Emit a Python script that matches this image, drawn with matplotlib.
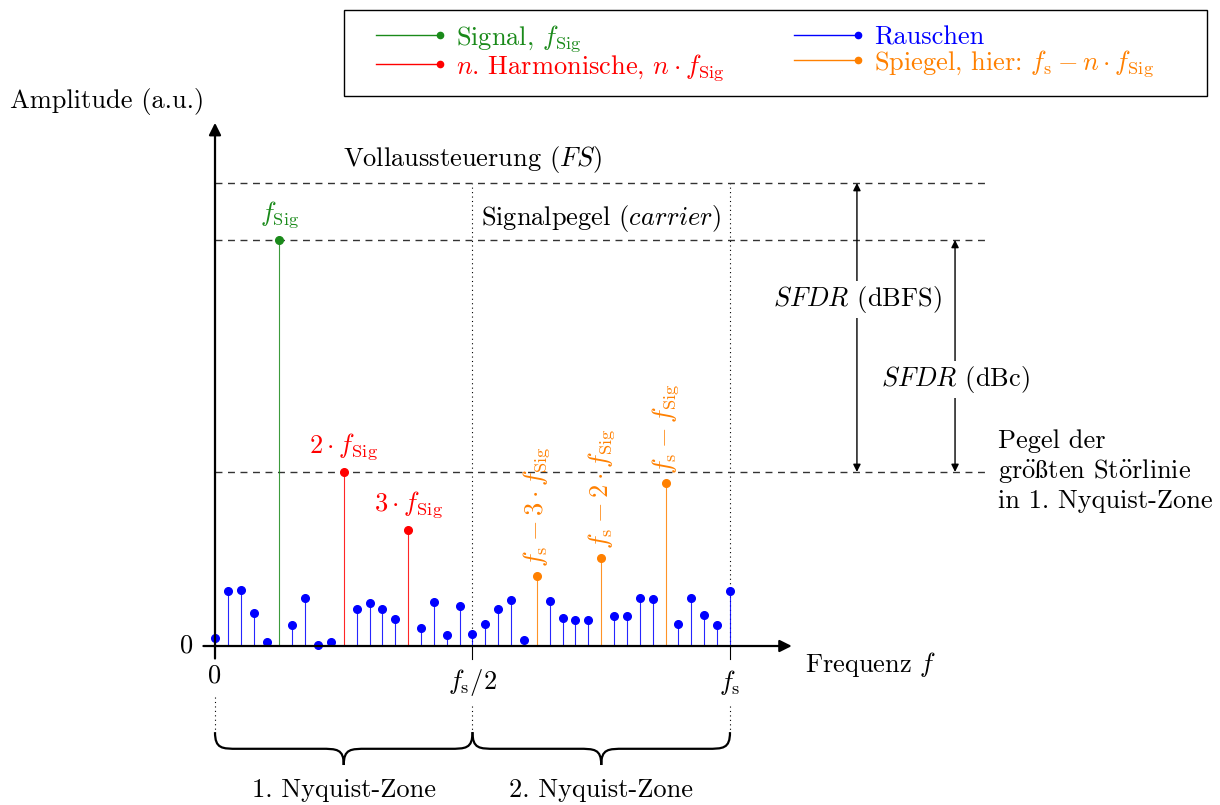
import matplotlib
matplotlib.use("Agg")
import matplotlib.pyplot as plt
from matplotlib.lines import Line2D
from matplotlib.legend_handler import HandlerBase
from matplotlib.path import Path
from matplotlib.patches import PathPatch, Rectangle

plt.rcParams['font.family'] = ['cmr10', 'Liberation Serif']
plt.rcParams['mathtext.fontset'] = 'cm'
plt.rcParams['axes.unicode_minus'] = False
FS = 19

# Frequenz in Bins (fs = 40 Bins), Amplitude in a.u. (Vollaussteuerung = 10)
fs_bin = 40
full_scale = 10.0
noise_bins = [0, 1, 2, 3, 4, 6, 7, 8, 9, 11, 12, 13, 14, 16, 17, 18, 19, 20,
              21, 22, 23, 24, 26, 27, 28, 29, 31, 32, 33, 34, 36, 37, 38, 39, 40]
noise_amp = [0.17, 1.19, 1.20, 0.72, 0.09, 0.45, 1.04, 0.02, 0.08, 0.81, 0.93,
             0.81, 0.58, 0.38, 0.94, 0.24, 0.86, 0.25, 0.47, 0.79, 0.99, 0.12,
             0.97, 0.61, 0.56, 0.56, 0.65, 0.65, 1.03, 1.01, 0.48, 1.03, 0.68,
             0.45, 1.18]
signal_bin = [5]
signal_amp = [8.77]
harm_order = [2, 3]
harm_amp = [3.76, 2.50]
image_order = [3, 2, 1]
image_amp = [1.51, 1.90, 3.52]

harm_bins = [n * signal_bin[0] for n in harm_order]
image_bins = [fs_bin - n * signal_bin[0] for n in image_order]
spur_level = max(harm_amp + image_amp + noise_amp)
carrier = signal_amp[0]

green = '#1a8a1a'
red = '#ff0000'
blue = '#0000ff'
orange = '#ff8000'

fig = plt.figure(figsize=(12.2, 8.05), dpi=100)
ax = fig.add_axes([0, 0, 1, 1])
ax.set_xlim(-16.70, 78.06)
ax.set_ylim(-3.434, 13.953)
ax.axis('off')


def stems(x, y, color):
    ax.vlines(x, 0, y, color=color, lw=0.8, alpha=0.85, zorder=3)
    ax.plot(x, y, 'o', color=color, ms=5.5, zorder=4)


stems(noise_bins, noise_amp, blue)
stems(signal_bin, signal_amp, green)
stems(harm_bins, harm_amp, red)
stems(image_bins, image_amp, orange)

# Achsen
ax.annotate('', xy=(44.8, 0), xytext=(-0.9, 0),
            arrowprops=dict(arrowstyle='-|>', lw=1.6, color='black',
                            mutation_scale=18, shrinkA=0, shrinkB=0), zorder=5)
ax.annotate('', xy=(0, 11.3), xytext=(0, -0.27),
            arrowprops=dict(arrowstyle='-|>', lw=1.6, color='black',
                            mutation_scale=18, shrinkA=0, shrinkB=0), zorder=5)
for xb in [fs_bin / 2, fs_bin]:
    ax.plot([xb, xb], [0, -0.27], color='black', lw=0.8, zorder=5)
    ax.plot([xb, xb], [0, full_scale], color='black', lw=0.8, ls=(0, (1, 3)), zorder=1)
for xb in [0, fs_bin / 2, fs_bin]:
    ax.plot([xb, xb], [-1.1 if xb == 0 else -1.3, -1.81], color='black', lw=0.8,
            ls=(0, (1, 3)))

# Pegel-Linien
for lev in [full_scale, carrier, spur_level]:
    ax.plot([0, 60.2], [lev, lev], color='#333333', lw=1.0, ls=(0, (5, 4)), zorder=2)

# Beschriftungen
ax.text(-15.9, 11.77, 'Amplitude (a.u.)', fontsize=FS, ha='left', va='center')
ax.text(-1.7, 0, '0', fontsize=FS, ha='right', va='center')
ax.text(0, -0.65, '0', fontsize=FS, ha='center', va='center')
ax.text(fs_bin / 2, -0.78, r'$f_\mathrm{s}/2$', fontsize=FS, ha='center', va='center')
ax.text(fs_bin, -0.78, r'$f_\mathrm{s}$', fontsize=FS, ha='center', va='center')
ax.text(45.8, -0.41, r'Frequenz $f$', fontsize=FS, ha='left', va='center')
ax.text(20.0, 10.5, r'Vollaussteuerung ($FS$)', fontsize=FS, ha='center', va='center')
ax.text(30.0, 9.24, r'Signalpegel ($\mathit{carrier}$)', fontsize=FS, ha='center', va='center')

ax.text(signal_bin[0], carrier + 0.22, r'$f_\mathrm{Sig}$', fontsize=FS, color=green,
        ha='center', va='bottom')
for xb, a, n in zip(harm_bins, harm_amp, harm_order):
    ax.text(xb, a + 0.22, r'$%d\cdot f_\mathrm{Sig}$' % n, fontsize=FS, color=red,
            ha='center', va='bottom')
for xb, a, n in zip(image_bins, image_amp, image_order):
    lab = r'$f_\mathrm{s}-f_\mathrm{Sig}$' if n == 1 else r'$f_\mathrm{s}-%d\cdot f_\mathrm{Sig}$' % n
    ax.text(xb, a + 0.2, lab, fontsize=FS, color=orange, rotation=90,
            ha='center', va='bottom')

# SFDR-Pfeile
for xa, top, lab, ylab in [(49.86, full_scale, r'$SFDR$ (dBFS)', 7.49),
                           (57.48, carrier, r'$SFDR$ (dBc)', 5.75)]:
    ax.annotate('', xy=(xa, top), xytext=(xa, spur_level),
                arrowprops=dict(arrowstyle='<|-|>', lw=1.0, color='black',
                                mutation_scale=11, shrinkA=0, shrinkB=0))
    ax.text(xa, ylab, lab, fontsize=FS, ha='center', va='center',
            bbox=dict(fc='white', ec='none', pad=2))
oe = r'$\mathrm{\ddot{o}}$'
ss = r'$\mathrm{ß}$'
ax.text(60.8, 3.78, 'Pegel der\ngr' + oe + ss + 'ten St' + oe + 'rlinie\nin 1. Nyquist-Zone',
        fontsize=FS, ha='left', va='center', linespacing=1.2)


# Nyquist-Zonen mit Klammern
def brace(x0, x1, ytop, ybody, ytip, dx=1.8):
    xm = (x0 + x1) / 2
    verts = [(x0, ytop), (x0, ybody), (x0 + 0.3 * dx, ybody), (x0 + dx, ybody),
             (xm - dx, ybody),
             (xm - 0.3 * dx, ybody), (xm, ybody), (xm, ytip),
             (xm, ybody), (xm + 0.3 * dx, ybody), (xm + dx, ybody),
             (x1 - dx, ybody),
             (x1 - 0.3 * dx, ybody), (x1, ybody), (x1, ytop)]
    codes = [Path.MOVETO, Path.CURVE4, Path.CURVE4, Path.CURVE4, Path.LINETO,
             Path.CURVE4, Path.CURVE4, Path.CURVE4,
             Path.CURVE4, Path.CURVE4, Path.CURVE4, Path.LINETO,
             Path.CURVE4, Path.CURVE4, Path.CURVE4]
    ax.add_patch(PathPatch(Path(verts, codes), fc='none', ec='black', lw=1.6))


for z, (x0, x1) in enumerate([(0, fs_bin / 2), (fs_bin / 2, fs_bin)]):
    brace(x0, x1, -1.86, -2.22, -2.57)
    ax.text((x0 + x1) / 2, -3.11, '%d. Nyquist-Zone' % (z + 1), fontsize=FS,
            ha='center', va='center')


# Legende
class StemHandler(HandlerBase):
    def create_artists(self, legend, orig, xdescent, ydescent, width, height,
                       fontsize, trans):
        y = height / 2 - ydescent
        c = orig.get_color()
        line = Line2D([-xdescent, width - xdescent], [y, y], color=c, lw=1.0)
        dot = Line2D([width - xdescent], [y], marker='o', ms=4.5, color=c)
        line.set_transform(trans)
        dot.set_transform(trans)
        return [line, dot]


handles = [Line2D([], [], color=green), Line2D([], [], color=red),
           Line2D([], [], color=blue), Line2D([], [], color=orange)]
labels = [r'Signal, $f_\mathrm{Sig}$', r'$n$. Harmonische, $n\cdot f_\mathrm{Sig}$',
          'Rauschen', r'Spiegel, hier: $f_\mathrm{s}-n\cdot f_\mathrm{Sig}$']
leg = fig.legend(handles, labels, ncol=2, loc='upper left',
                 bbox_to_anchor=(376 / 1220, 1 - 23 / 805), fontsize=FS,
                 handler_map={Line2D: StemHandler()}, labelcolor='linecolor',
                 frameon=False, handlelength=2.42, handletextpad=0.6,
                 columnspacing=2.65, labelspacing=-0.07, borderpad=0,
                 borderaxespad=0)
fig.patches.append(Rectangle((344 / 1220, 1 - 96 / 805), 863 / 1220, 86 / 805,
                             transform=fig.transFigure, fill=False,
                             ec='black', lw=1.0))

fig.savefig('out.png', dpi=100)
